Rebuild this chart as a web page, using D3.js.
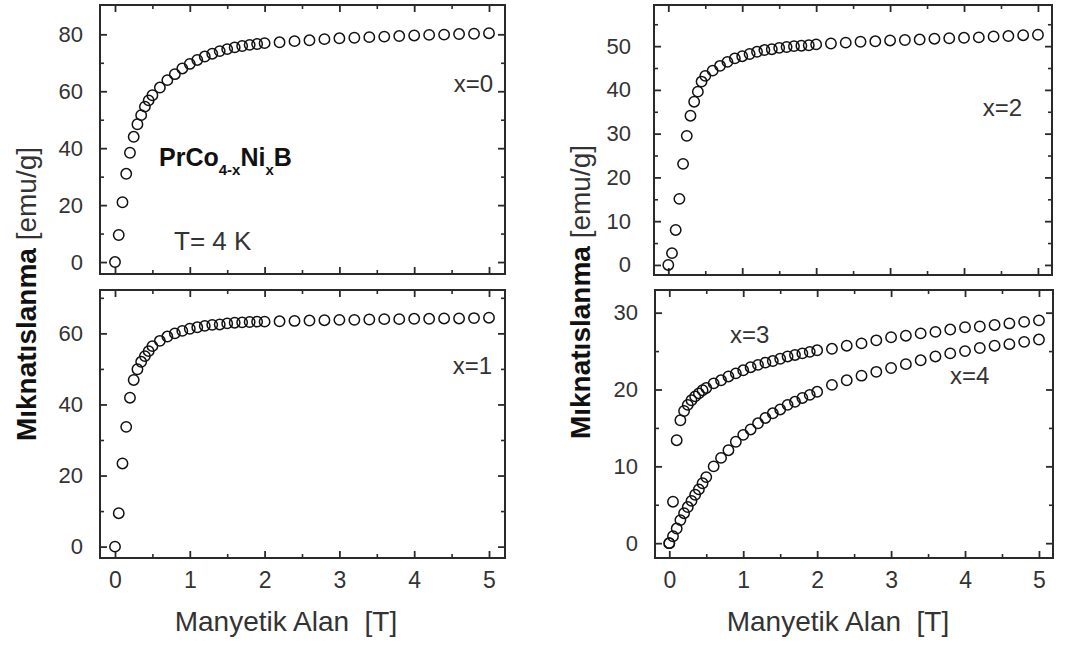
<!DOCTYPE html>
<html>
<head>
<meta charset="utf-8">
<script src="https://cdn.jsdelivr.net/npm/d3@7"></script>
<style>
  html, body { margin: 0; padding: 0; background: #fff; }
  svg { display: block; font-family: "Liberation Sans", Arial, sans-serif; }
  .tick text { fill: #333; }
</style>
</head>
<body>
<svg id="chart" width="1069" height="646"></svg>
<script>
// ---------- DATA ----------
const fieldT = [0, 0.05, 0.1, 0.15, 0.2, 0.25, 0.3, 0.35, 0.4, 0.45, 0.5,
  0.6, 0.7, 0.8, 0.9, 1.0, 1.1, 1.2, 1.3, 1.4, 1.5, 1.6, 1.7, 1.8, 1.9, 2.0,
  2.2, 2.4, 2.6, 2.8, 3.0, 3.2, 3.4, 3.6, 3.8, 4.0, 4.2, 4.4, 4.6, 4.8, 5.0];

const magX0 = [0, 9.5, 21, 31, 38.4, 44, 48.4, 51.6, 54.6, 56.8, 58.6,
  61.3, 63.9, 66, 68, 69.6, 71, 72.2, 73.2, 74.1, 74.8, 75.4, 75.9, 76.3, 76.6, 76.9,
  77.2, 77.6, 77.9, 78.3, 78.6, 78.8, 79.0, 79.2, 79.4, 79.6, 79.8, 79.9, 80.1, 80.2, 80.4];

const magX1 = [0, 9.4, 23.4, 33.7, 41.9, 46.9, 49.9, 52, 53.6, 55, 56.4,
  57.9, 59.1, 60, 60.7, 61.3, 61.7, 62.1, 62.4, 62.5, 62.8, 63, 63.1, 63.2, 63.3, 63.3,
  63.4, 63.5, 63.6, 63.7, 63.8, 63.8, 63.9, 64.0, 64.0, 64.1, 64.1, 64.2, 64.2, 64.3, 64.4];

const magX2 = [0, 2.7, 8.0, 15.1, 23.1, 29.5, 34.1, 37.3, 39.6, 41.9, 43.2,
  44.4, 45.5, 46.4, 47.2, 47.7, 48.2, 48.7, 49.1, 49.3, 49.6, 49.8, 50, 50.1, 50.2, 50.4,
  50.6, 50.8, 51.0, 51.1, 51.3, 51.4, 51.5, 51.7, 51.8, 51.9, 52.0, 52.2, 52.3, 52.5, 52.6];

const magX3 = [0, 5.4, 13.4, 16.0, 17.2, 18.0, 18.6, 19.1, 19.5, 19.9, 20.2,
  20.8, 21.2, 21.7, 22.1, 22.5, 22.9, 23.2, 23.5, 23.7, 24.0, 24.3, 24.5, 24.7, 24.9, 25.1,
  25.3, 25.7, 26.0, 26.4, 26.8, 27.0, 27.3, 27.5, 27.8, 28.1, 28.2, 28.4, 28.6, 28.8, 29.0];

const magX4 = [0, 0.9, 1.9, 3.0, 3.9, 4.7, 5.5, 6.3, 7.0, 7.8, 8.6,
  10.0, 11.1, 12.1, 13.2, 14.1, 14.8, 15.6, 16.3, 16.9, 17.4, 18.0, 18.4, 18.9, 19.3, 19.7,
  20.6, 21.2, 21.8, 22.3, 22.8, 23.3, 23.8, 24.3, 24.7, 25.0, 25.4, 25.7, 25.9, 26.2, 26.5];

const xTicks = [0, 1, 2, 3, 4, 5];
const xMinorTicks = [0.5, 1.5, 2.5, 3.5, 4.5];
const yTicksTL = [0, 20, 40, 60, 80];
const yMinorTL = [10, 30, 50, 70];
const yTicksBL = [0, 20, 40, 60];
const yMinorBL = [10, 30, 50, 70];
const yTicksTR = [0, 10, 20, 30, 40, 50];
const yMinorTR = [5, 15, 25, 35, 45, 55];
const yTicksBR = [0, 10, 20, 30];
const yMinorBR = [5, 15, 25];

const yLabelBold = "Mıknatıslanma";
const yLabelUnit = "[emu/g]";
const xLabel = "Manyetik Alan  [T]";

// ---------- LAYOUT ----------
const svg = d3.select("#chart");
const ink = "#2a2a2a";
const txt = "#333";

const panels = [
  { x0: 100, x1: 505, y0: 5,   y1: 274, xd: [-0.2005, 5.214], yd: [-4.2, 90.3],
    yt: yTicksTL, ym: yMinorTL, pad: 10, series: [magX0], showX: false,
    labels: [{ t: "x=0", x: 493, y: 92, anchor: "end" }] },
  { x0: 100, x1: 505, y0: 290, y1: 558, xd: [-0.2005, 5.214], yd: [-3.2, 72.2],
    yt: yTicksBL, ym: yMinorBL, pad: 10, series: [magX1], showX: true,
    labels: [{ t: "x=1", x: 492, y: 374, anchor: "end" }] },
  { x0: 654, x1: 1052, y0: 5,  y1: 275, xd: [-0.1933, 5.19], yd: [-2.3, 59.4],
    yt: yTicksTR, ym: yMinorTR, pad: 16, series: [magX2], showX: false,
    labels: [{ t: "x=2", x: 1022, y: 116, anchor: "end" }] },
  { x0: 655, x1: 1053, y0: 290, y1: 558, xd: [-0.1933, 5.19], yd: [-1.93, 32.95],
    yt: yTicksBR, ym: yMinorBR, pad: 10, series: [magX3, magX4], showX: true,
    labels: [{ t: "x=3", x: 730, y: 343, anchor: "start" },
             { t: "x=4", x: 950, y: 384, anchor: "start" }] }
];

panels.forEach(p => {
  const x = d3.scaleLinear().domain(p.xd).range([p.x0, p.x1]);
  const y = d3.scaleLinear().domain(p.yd).range([p.y1, p.y0]);
  const g = svg.append("g");

  // minor ticks (inward, all four sides)
  const minorAxes = [
    [d3.axisBottom(x).tickValues(xMinorTicks), `translate(0,${p.y1})`],
    [d3.axisTop(x).tickValues(xMinorTicks), `translate(0,${p.y0})`],
    [d3.axisLeft(y).tickValues(p.ym), `translate(${p.x0},0)`],
    [d3.axisRight(y).tickValues(p.ym), `translate(${p.x1},0)`]
  ];
  minorAxes.forEach(([ax, tr]) => {
    const a = g.append("g").attr("transform", tr)
      .call(ax.tickSize(-4).tickFormat(""));
    a.select(".domain").remove();
    a.selectAll("line").attr("stroke", ink).attr("stroke-width", 1.6);
  });

  // major ticks
  const bottom = g.append("g").attr("transform", `translate(0,${p.y1})`)
    .call(d3.axisBottom(x).tickValues(xTicks).tickSize(-7).tickPadding(14)
      .tickFormat(p.showX ? d3.format("d") : ""));
  const top = g.append("g").attr("transform", `translate(0,${p.y0})`)
    .call(d3.axisTop(x).tickValues(xTicks).tickSize(-7).tickFormat(""));
  const left = g.append("g").attr("transform", `translate(${p.x0},0)`)
    .call(d3.axisLeft(y).tickValues(p.yt).tickSize(-7).tickPadding(p.pad + 7)
      .tickFormat(d3.format("d")));
  const right = g.append("g").attr("transform", `translate(${p.x1},0)`)
    .call(d3.axisRight(y).tickValues(p.yt).tickSize(-7).tickFormat(""));

  [bottom, top, left, right].forEach(a => {
    a.select(".domain").remove();
    a.selectAll("line").attr("stroke", ink).attr("stroke-width", 1.8);
  });
  bottom.selectAll("text").attr("font-size", 23).attr("fill", txt)
    .attr("font-family", "Liberation Sans, Arial, sans-serif");
  left.selectAll("text").attr("font-size", 22).attr("fill", txt)
    .attr("font-family", "Liberation Sans, Arial, sans-serif");

  // frame
  g.append("rect")
    .attr("x", p.x0).attr("y", p.y0)
    .attr("width", p.x1 - p.x0).attr("height", p.y1 - p.y0)
    .attr("fill", "none").attr("stroke", ink).attr("stroke-width", 2);

  // data points
  p.series.forEach(vals => {
    g.append("g").selectAll("circle")
      .data(fieldT.map((f, i) => [f, vals[i]]))
      .join("circle")
      .attr("cx", d => x(d[0]))
      .attr("cy", d => y(d[1]))
      .attr("r", 5.2)
      .attr("fill", "none")
      .attr("stroke", "#111")
      .attr("stroke-width", 1.5);
  });

  // labels
  p.labels.forEach(l => {
    g.append("text").attr("x", l.x).attr("y", l.y)
      .attr("text-anchor", l.anchor)
      .attr("font-size", 24).attr("fill", txt)
      .text(l.t);
  });
});

// compound formula
const formula = svg.append("text").attr("x", 159).attr("y", 166)
  .attr("font-weight", "bold").attr("font-size", 25).attr("fill", "#111");
formula.append("tspan").text("PrCo");
formula.append("tspan").attr("font-size", 15).attr("dy", 9).text("4-x");
formula.append("tspan").attr("dy", -9).text("Ni");
formula.append("tspan").attr("font-size", 15).attr("dy", 9).text("x");
formula.append("tspan").attr("dy", -9).text("B");

svg.append("text").attr("x", 174).attr("y", 250)
  .attr("font-size", 26).attr("fill", txt).text("T= 4 K");

// axis titles
[{ cx: 36, cy: 294 }, { cx: 590, cy: 292 }].forEach(a => {
  const t = svg.append("text")
    .attr("transform", `translate(${a.cx},${a.cy}) rotate(-90)`)
    .attr("text-anchor", "middle").attr("font-size", 28).attr("fill", "#111");
  t.append("tspan").attr("font-weight", "bold").text(yLabelBold);
  t.append("tspan").attr("fill", txt).text(" " + yLabelUnit);
});

[{ cx: 286 }, { cx: 838 }].forEach(a => {
  svg.append("text").attr("x", a.cx).attr("y", 631)
    .attr("text-anchor", "middle").attr("font-size", 28).attr("fill", txt)
    .style("white-space", "pre")
    .text(xLabel);
});
</script>
</body>
</html>
